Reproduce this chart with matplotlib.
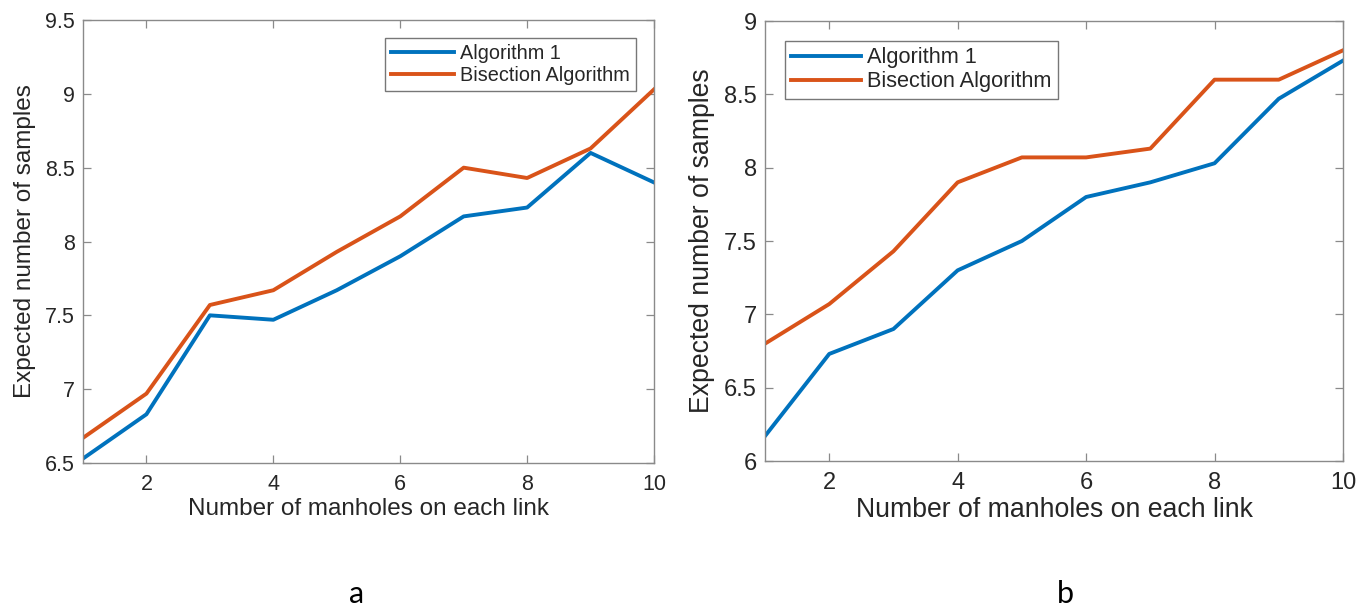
import numpy as np
import matplotlib
matplotlib.use("Agg")
import matplotlib.pyplot as plt

# ---------- DATA ----------
manholes = [1, 2, 3, 4, 5, 6, 7, 8, 9, 10]

# panel a
alg1_a = [6.53, 6.83, 7.50, 7.47, 7.67, 7.90, 8.17, 8.23, 8.60, 8.40]
bisect_a = [6.67, 6.97, 7.57, 7.67, 7.93, 8.17, 8.50, 8.43, 8.63, 9.03]

# panel b
alg1_b = [6.17, 6.73, 6.90, 7.30, 7.50, 7.80, 7.90, 8.03, 8.47, 8.73]
bisect_b = [6.80, 7.07, 7.43, 7.90, 8.07, 8.07, 8.13, 8.60, 8.60, 8.80]

series_names = ["Algorithm 1", "Bisection Algorithm"]
ylims_a = (6.5, 9.5)
ylims_b = (6.0, 9.0)
xticks = [2, 4, 6, 8, 10]
# --------------------------

BLUE = "#0072BD"
ORANGE = "#D95319"
SPINE = "#8a8a8a"
TEXT = "#262626"

plt.rcParams["font.family"] = ["Liberation Sans", "DejaVu Sans"]

fig = plt.figure(figsize=(13.72, 6.12), dpi=100)
W, H = 1372, 612


def px_axes(x0, y0, x1, y1):
    return fig.add_axes([x0 / W, 1 - y1 / H, (x1 - x0) / W, (y1 - y0) / H])


def draw_panel(ax, alg1, bis, ylims, tick_fs, label_fs, legend_fs, legend_loc):
    ax.plot(manholes, alg1, color=BLUE, lw=2.8, label=series_names[0])
    ax.plot(manholes, bis, color=ORANGE, lw=2.8, label=series_names[1])
    ax.set_xlim(1, 10)
    ax.set_ylim(*ylims)
    ax.set_xticks(xticks)
    yt = np.arange(ylims[0], ylims[1] + 0.01, 0.5)
    ax.set_yticks(yt)
    ax.set_yticklabels([f"{v:g}" for v in yt])
    for s in ax.spines.values():
        s.set_color(SPINE)
        s.set_linewidth(1.0)
    ax.tick_params(direction="in", length=6, width=0.9, color=SPINE,
                   top=True, right=True, labelsize=tick_fs, labelcolor=TEXT)
    ax.tick_params(axis="x", pad=8)
    ax.tick_params(axis="y", pad=6)
    ax.set_xlabel("Number of manholes on each link", fontsize=label_fs,
                  color=TEXT, labelpad=2)
    ax.set_ylabel("Expected number of samples", fontsize=label_fs,
                  color=TEXT, labelpad=6)
    leg = ax.legend(loc=legend_loc, fontsize=legend_fs, frameon=True,
                    fancybox=False, handlelength=3.2, handletextpad=0.3,
                    borderpad=0.3, labelspacing=0.15, borderaxespad=0.9)
    leg.get_frame().set_edgecolor("#555555")
    leg.get_frame().set_linewidth(1.0)
    for t in leg.get_texts():
        t.set_color(TEXT)


ax_a = px_axes(83, 20, 654, 463)
draw_panel(ax_a, alg1_a, bisect_a, ylims_a, 15.5, 17.5, 14.3, "upper right")

ax_b = px_axes(765, 21, 1343, 461)
draw_panel(ax_b, alg1_b, bisect_b, ylims_b, 17, 19.2, 15.7, "upper left")

fig.text(357 / W, 1 - 594 / H, "a", ha="center", va="center",
         fontsize=22, family=["Lato", "DejaVu Sans"], color="black")
fig.text(1065 / W, 1 - 594 / H, "b", ha="center", va="center",
         fontsize=22, family=["Lato", "DejaVu Sans"], color="black")

fig.savefig("out.png", dpi=100, facecolor="white")
